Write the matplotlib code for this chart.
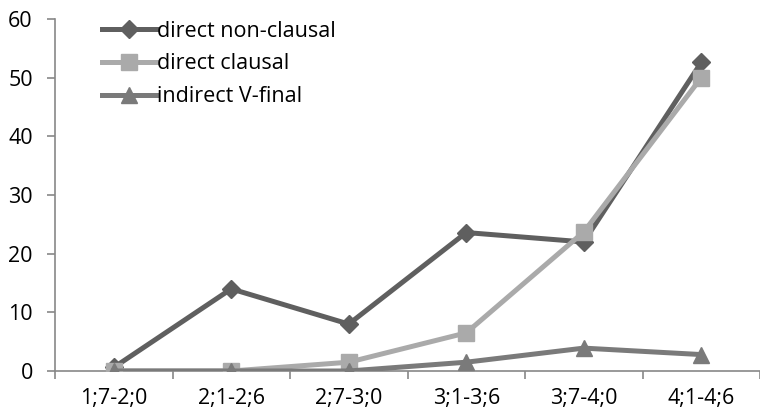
import matplotlib.pyplot as plt

plt.rcParams['font.family'] = ['Open Sans', 'DejaVu Sans']

# age ranges
categories = ['1;7-2;0', '2;1-2;6', '2;7-3;0', '3;1-3;6', '3;7-4;0', '4;1-4;6']
direct_nonclausal = [0.6, 14.0, 8.0, 23.6, 22.0, 52.6]
direct_clausal = [0.0, 0.0, 1.5, 6.5, 23.7, 50.0]
indirect_vfinal = [0.0, 0.0, 0.0, 1.5, 3.9, 2.8]

fig = plt.figure(figsize=(7.6, 4.17), dpi=100)
ax = fig.add_axes([55/760, 46/417, 705/760, 352/417])

x = range(len(categories))
ax.plot(x, direct_nonclausal, color='#5f5f5f', lw=3.6, marker='D', ms=9,
        label='direct non-clausal', zorder=3)
ax.plot(x, direct_clausal, color='#aaaaaa', lw=3.6, marker='s', ms=11,
        label='direct clausal', zorder=4)
ax.plot(x, indirect_vfinal, color='#7a7a7a', lw=3.6, marker='^', ms=12,
        label='indirect V-final', zorder=5)

ax.set_xlim(-0.5, 5.5)
ax.set_ylim(0, 60)
ax.set_yticks(range(0, 61, 10))
ax.set_xticks(x)
ax.set_xticklabels(categories)
ax.set_xticks([i - 0.5 for i in range(7)], minor=True)
ax.tick_params(axis='x', which='major', length=0, pad=12, labelsize=15.5)
ax.tick_params(axis='x', which='minor', length=6, color='#888888', width=1.2)
ax.tick_params(axis='y', length=6, color='#888888', width=1.2, labelsize=15.5, pad=10)

for s in ['top', 'right']:
    ax.spines[s].set_visible(False)
for s in ['left', 'bottom']:
    ax.spines[s].set_color('#888888')
    ax.spines[s].set_linewidth(1.2)

ax.legend(loc='upper left', bbox_to_anchor=(0.055, 1.02), frameon=False, fontsize=15.5,
          handlelength=2.5, handletextpad=0.05, labelspacing=0.55, borderaxespad=0)

plt.savefig('out.png')
